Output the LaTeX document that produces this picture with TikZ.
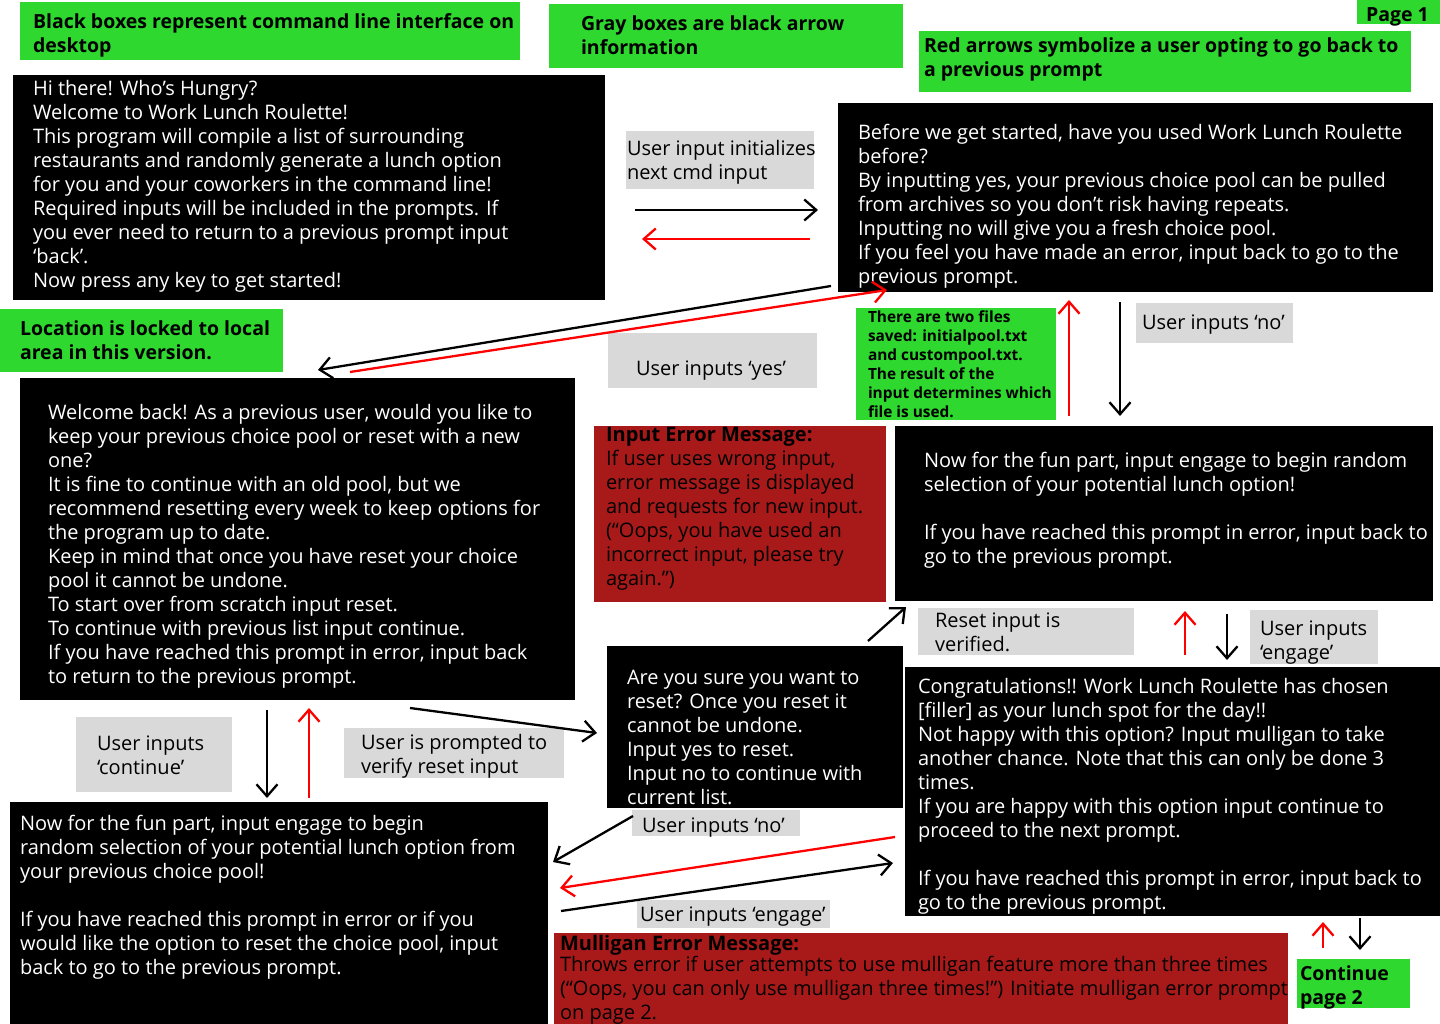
\documentclass[tikz,border=0pt]{standalone}
\usepackage{fontspec}
\setmainfont{Open Sans}
\usetikzlibrary{arrows.meta}

\definecolor{legendgreen}{RGB}{46,216,46}
\definecolor{infogray}{RGB}{217,217,217}
\definecolor{errorred}{RGB}{168,26,26}
\definecolor{backred}{RGB}{255,0,0}

\newcommand{\bodyfont}{\fontsize{20}{24}\selectfont}
\newcommand{\notefont}{\fontsize{19.5}{24}\selectfont\bfseries}
\newcommand{\smallnotefont}{\fontsize{15.4}{19}\selectfont\bfseries}

% Text blocks are placed by the baseline of their first line:
% a strut opens the first line and the node is lifted by its height.
\tikzset{
  panel/.style={anchor=north west, inner sep=0pt, outer sep=0pt, draw=none},
  cmd/.style={panel, fill=black},
  legend/.style={panel, fill=legendgreen},
  info/.style={panel, fill=infogray},
  errbox/.style={panel, fill=errorred},
  words/.style={anchor=north west, inner sep=0pt, outer sep=0pt, align=left,
    font=\bodyfont, text=black, execute at begin node=\strut, yshift=14.3pt},
  cmdtext/.style={words, text=white},
  notetext/.style={words, font=\notefont},
  smallnote/.style={anchor=north west, inner sep=0pt, outer sep=0pt, align=left,
    font=\smallnotefont, text=black, execute at begin node=\strut, yshift=10.3pt},
  flow/.style={line width=2.3pt, -{Straight Barb[length=12pt,width=21pt]}},
  goback/.style={flow, draw=backred},
  forward/.style={flow, draw=black}
}

\begin{document}
\begin{tikzpicture}[x=1pt,y=-1pt]
\fill[white] (0,0) rectangle (1440,1024);
\useasboundingbox (0,0) rectangle (1440,1024);

% ---------- legend notes ----------
\node[legend, minimum width=500pt, minimum height=58pt] (g1) at (20,2) {};
\node[notetext] (g1t) at (33,28) {Black boxes represent command line interface on\\desktop};
\node[legend, minimum width=354pt, minimum height=64pt] (g2) at (549,4) {};
\node[notetext] (g2t) at (581,30) {Gray boxes are black arrow\\information};
\node[legend, minimum width=83pt, minimum height=24pt] (g3) at (1357,0) {};
\node[notetext] (g3t) at (1366,19) {Page 1};
\node[legend, minimum width=492pt, minimum height=61pt] (g4) at (919,31) {};
\node[notetext] (g4t) at (924,52) {Red arrows symbolize a user opting to go back to\\a previous prompt};
\node[legend, minimum width=283pt, minimum height=63pt] (g5) at (0,309) {};
\node[notetext] (g5t) at (20,335) {Location is locked to local\\area in this version.};
\node[legend, minimum width=200pt, minimum height=112pt] (g6) at (856,308) {};
\node[smallnote] (g6t) at (868,321) {There are two files\\saved: initialpool.txt\\and custompool.txt.\\The result of the\\input determines which\\file is used.};
\node[legend, minimum width=113pt, minimum height=49pt] (g7) at (1297,959) {};
\node[notetext] (g7t) at (1300,980) {Continue\\page 2};

% ---------- command line prompts ----------
\node[cmd, minimum width=592pt, minimum height=225pt] (b1) at (13,75) {};
\node[cmdtext] (b1t) at (33,95) {Hi there! Who’s Hungry?\\Welcome to Work Lunch Roulette!\\This program will compile a list of surrounding\\restaurants and randomly generate a lunch option\\for you and your coworkers in the command line!\\Required inputs will be included in the prompts. If\\you ever need to return to a previous prompt input\\‘back’.\\Now press any key to get started!};

\node[cmd, minimum width=595pt, minimum height=189pt] (b2) at (838,103) {};
\node[cmdtext] (b2t) at (858,138) {Before we get started, have you used Work Lunch Roulette\\before?\\By inputting yes, your previous choice pool can be pulled\\from archives so you don’t risk having repeats.\\Inputting no will give you a fresh choice pool.\\If you feel you have made an error, input back to go to the\\previous prompt.};

\node[cmd, minimum width=555pt, minimum height=322pt] (b3) at (20,378) {};
\node[cmdtext] (b3t) at (48,419) {Welcome back! As a previous user, would you like to\\keep your previous choice pool or reset with a new\\one?\\It is fine to continue with an old pool, but we\\recommend resetting every week to keep options for\\the program up to date.\\Keep in mind that once you have reset your choice\\pool it cannot be undone.\\To start over from scratch input reset.\\To continue with previous list input continue.\\If you have reached this prompt in error, input back\\to return to the previous prompt.};

\node[cmd, minimum width=538pt, minimum height=175pt] (b4) at (895,426) {};
\node[cmdtext] (b4t) at (924,466) {Now for the fun part, input engage to begin random\\selection of your potential lunch option!\\[24pt]If you have reached this prompt in error, input back to\\go to the previous prompt.};

\node[cmd, minimum width=296pt, minimum height=162pt] (b5) at (607,646) {};
\node[cmdtext] (b5t) at (627,684) {Are you sure you want to\\reset? Once you reset it\\cannot be undone.\\Input yes to reset.\\Input no to continue with\\current list.};

\node[cmd, minimum width=535pt, minimum height=249pt] (b6) at (905,667) {};
\node[cmdtext] (b6t) at (918,693) {Congratulations!! Work Lunch Roulette has chosen\\{[filler]} as your lunch spot for the day!!\\Not happy with this option? Input mulligan to take\\another chance. Note that this can only be done 3\\times.\\If you are happy with this option input continue to\\proceed to the next prompt.\\[24pt]If you have reached this prompt in error, input back to\\go to the previous prompt.};

\node[cmd, minimum width=538pt, minimum height=222pt] (b7) at (10,802) {};
\node[cmdtext] (b7t) at (20,829) {Now for the fun part, input engage to begin\\random selection of your potential lunch option from\\your previous choice pool!\\[24pt]If you have reached this prompt in error or if you\\would like the option to reset the choice pool, input\\back to go to the previous prompt.};

% ---------- error messages ----------
\node[errbox, minimum width=292pt, minimum height=176pt] (e1) at (594,426) {};
\node[words] (e1t) at (606,442) {\textbf{Input Error Message:}\\If user uses wrong input,\\error message is displayed\\and requests for new input.\\(“Oops, you have used an\\incorrect input, please try\\again.”)};
\node[errbox, minimum width=734pt, minimum height=91pt] (e2) at (554,933) {};
\node[words] (e2t) at (560,950) {\textbf{Mulligan Error Message:}\\[-3pt]Throws error if user attempts to use mulligan feature more than three times\\(“Oops, you can only use mulligan three times!”) Initiate mulligan error prompt\\on page 2.};

% ---------- arrow information ----------
\node[info, minimum width=188pt, minimum height=58pt] (i1) at (626,131) {};
\node[words] (i1t) at (627,155) {User input initializes\\next cmd input};
\node[info, minimum width=209pt, minimum height=55pt] (i2) at (608,333) {};
\node[words] (i2t) at (636,373) {User inputs ‘yes’};
\node[info, minimum width=157pt, minimum height=40pt] (i3) at (1136,303) {};
\node[words] (i3t) at (1142,327) {User inputs ‘no’};
\node[info, minimum width=216pt, minimum height=47pt] (i4) at (918,608) {};
\node[words] (i4t) at (935,627) {Reset input is\\verified.};
\node[info, minimum width=128pt, minimum height=54pt] (i5) at (1250,610) {};
\node[words] (i5t) at (1260,635) {User inputs\\‘engage’};
\node[info, minimum width=156pt, minimum height=75pt] (i6) at (76,717) {};
\node[words] (i6t) at (97,750) {User inputs\\‘continue’};
\node[info, minimum width=220pt, minimum height=50pt] (i7) at (344,728) {};
\node[words] (i7t) at (361,749) {User is prompted to\\verify reset input};
\node[info, minimum width=168pt, minimum height=26pt] (i8) at (632,810) {};
\node[words] (i8t) at (642,830) {User inputs ‘no’};
\node[info, minimum width=193pt, minimum height=28pt] (i9) at (637,900) {};
\node[words] (i9t) at (640,919) {User inputs ‘engage’};

% ---------- arrow end points ----------
\coordinate (a1s) at (635,210);  \coordinate (a1e) at (818,210);
\coordinate (a2s) at (810,239);  \coordinate (a2e) at (642,239);
\coordinate (a3s) at (831,286);  \coordinate (a3e) at (318,370);
\coordinate (a4s) at (350,372);  \coordinate (a4e) at (887,290);
\coordinate (a5s) at (1069,416); \coordinate (a5e) at (1069,300);
\coordinate (a6s) at (1120,302); \coordinate (a6e) at (1120,416);
\coordinate (a7s) at (868,641);  \coordinate (a7e) at (906,607);
\coordinate (a8s) at (1185,655); \coordinate (a8e) at (1185,611);
\coordinate (a9s) at (1227,614); \coordinate (a9e) at (1227,660);
\coordinate (a10s) at (267,710); \coordinate (a10e) at (267,798);
\coordinate (a11s) at (309,798); \coordinate (a11e) at (309,708);
\coordinate (a12s) at (410,708); \coordinate (a12e) at (597,733);
\coordinate (a13s) at (633,816); \coordinate (a13e) at (553,862);
\coordinate (a14s) at (895,837); \coordinate (a14e) at (560,888);
\coordinate (a15s) at (561,911); \coordinate (a15e) at (893,863);
\coordinate (a16s) at (1323,948); \coordinate (a16e) at (1323,922);
\coordinate (a17s) at (1360,918); \coordinate (a17e) at (1360,950);

% ---------- arrows ----------
\draw[forward] (a1s) -- (a1e);
\draw[goback]  (a2s) -- (a2e);
\draw[forward] (a3s) -- (a3e);
\draw[goback]  (a4s) -- (a4e);
\draw[goback]  (a5s) -- (a5e);
\draw[forward] (a6s) -- (a6e);
\draw[forward] (a7s) -- (a7e);
\draw[goback]  (a8s) -- (a8e);
\draw[forward] (a9s) -- (a9e);
\draw[forward] (a10s) -- (a10e);
\draw[goback]  (a11s) -- (a11e);
\draw[forward] (a12s) -- (a12e);
\draw[forward] (a13s) -- (a13e);
\draw[goback]  (a14s) -- (a14e);
\draw[forward] (a15s) -- (a15e);
\draw[goback]  (a16s) -- (a16e);
\draw[forward] (a17s) -- (a17e);
\end{tikzpicture}
\end{document}
